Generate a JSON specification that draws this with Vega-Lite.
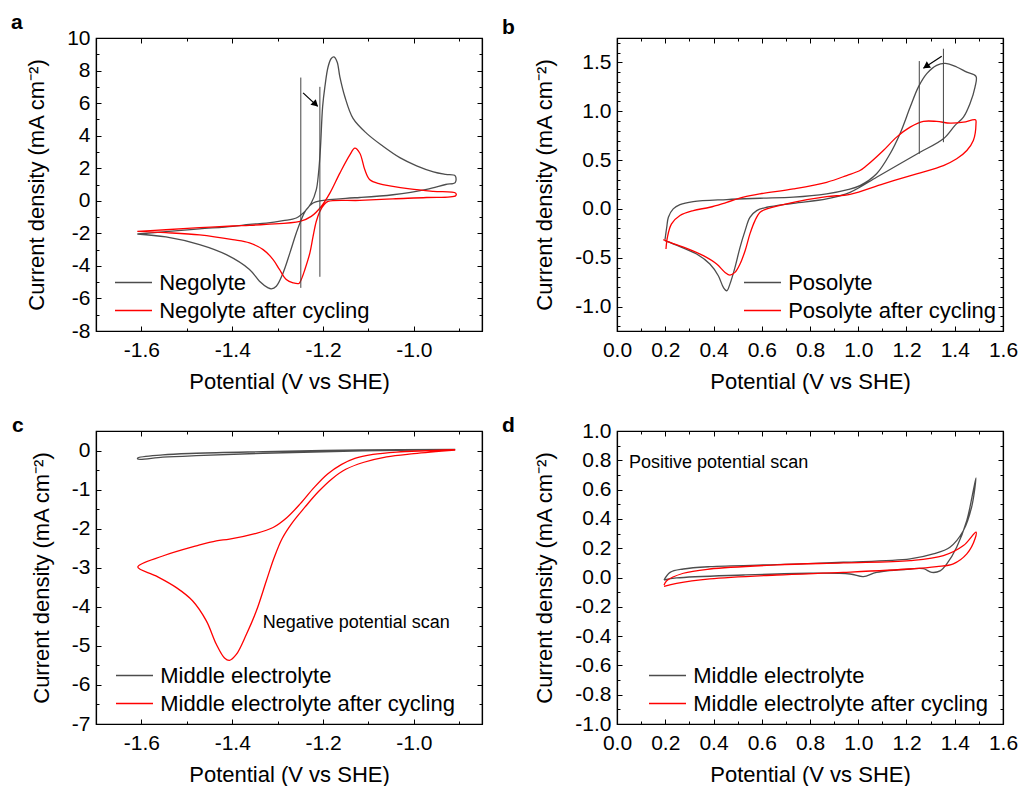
{
"$schema":"https://vega.github.io/schema/vega-lite/v6.json",
"padding":{"left":10,"top":11,"right":5,"bottom":5},
"config":{"font":"Liberation Sans","view":{"stroke":"black","strokeWidth":1.2},
"axis":{"labelFont":"Liberation Sans","labelFontSize":21,"labelColor":"black","titleFont":"Liberation Sans","titleFontSize":22,"titleFontWeight":"normal","titleColor":"black","tickColor":"black","tickWidth":1,"domainColor":"black","domainWidth":1.2,"grid":false,"labelOverlap":false,"labelFlush":false,"labelPadding":11,"titlePadding":10},
"axisBottom":{"labelPadding":13,"titlePadding":9},
"axisLeft":{"titlePadding":18},
"legend":{"labelFont":"Liberation Sans","labelFontSize":22,"labelColor":"black","labelLimit":0,"symbolType":"M-1.5,0H1.5","symbolSize":608,"symbolStrokeWidth":1.5,"labelOffset":12.2,"rowPadding":3,"padding":0},
"title":{"font":"Liberation Sans","fontSize":21,"fontWeight":"bold","color":"black","anchor":"start","frame":"group","baseline":"alphabetic"}},
"columns":2,
"spacing":{"row":100,"column":135},
"bounds":"flush",
"resolve":{"scale":{"color":"independent","x":"independent","y":"independent"}},
"concat":[
{"width":386,"height":293,
"title":{"text":"a","dx":-85,"offset":-6},
"layer":[
{"data":{"values":[
{"s":"Negolyte","i":0,"x":-1.609,"y":-2.04},{"s":"Negolyte","i":1,"x":-1.546,"y":-1.9},{"s":"Negolyte","i":2,"x":-1.472,"y":-1.73},{"s":"Negolyte","i":3,"x":-1.399,"y":-1.57},{"s":"Negolyte","i":4,"x":-1.362,"y":-1.45},{"s":"Negolyte","i":5,"x":-1.325,"y":-1.37},{"s":"Negolyte","i":6,"x":-1.288,"y":-1.22},{"s":"Negolyte","i":7,"x":-1.259,"y":-1.06},{"s":"Negolyte","i":8,"x":-1.24,"y":-0.65},{"s":"Negolyte","i":9,"x":-1.226,"y":-0.14},{"s":"Negolyte","i":10,"x":-1.215,"y":0.67},{"s":"Negolyte","i":11,"x":-1.21,"y":1.7},{"s":"Negolyte","i":12,"x":-1.206,"y":3.12},{"s":"Negolyte","i":13,"x":-1.201,"y":5.77},{"s":"Negolyte","i":14,"x":-1.196,"y":7.0},{"s":"Negolyte","i":15,"x":-1.189,"y":8.22},{"s":"Negolyte","i":16,"x":-1.182,"y":8.74},{"s":"Negolyte","i":17,"x":-1.176,"y":8.84},{"s":"Negolyte","i":18,"x":-1.169,"y":8.53},{"s":"Negolyte","i":19,"x":-1.163,"y":7.61},{"s":"Negolyte","i":20,"x":-1.152,"y":6.39},{"s":"Negolyte","i":21,"x":-1.134,"y":5.06},{"s":"Negolyte","i":22,"x":-1.104,"y":4.14},{"s":"Negolyte","i":23,"x":-1.068,"y":3.35},{"s":"Negolyte","i":24,"x":-1.031,"y":2.65},{"s":"Negolyte","i":25,"x":-0.994,"y":2.15},{"s":"Negolyte","i":26,"x":-0.957,"y":1.78},{"s":"Negolyte","i":27,"x":-0.93,"y":1.62},{"s":"Negolyte","i":28,"x":-0.909,"y":1.53},{"s":"Negolyte","i":29,"x":-0.909,"y":1.12},{"s":"Negolyte","i":30,"x":-0.93,"y":1.0},{"s":"Negolyte","i":31,"x":-0.972,"y":0.7},{"s":"Negolyte","i":32,"x":-1.046,"y":0.37},{"s":"Negolyte","i":33,"x":-1.119,"y":0.2},{"s":"Negolyte","i":34,"x":-1.141,"y":0.17},{"s":"Negolyte","i":35,"x":-1.207,"y":0.0},{"s":"Negolyte","i":36,"x":-1.222,"y":-0.14},{"s":"Negolyte","i":37,"x":-1.237,"y":-0.55},{"s":"Negolyte","i":38,"x":-1.248,"y":-1.16},{"s":"Negolyte","i":39,"x":-1.259,"y":-1.98},{"s":"Negolyte","i":40,"x":-1.273,"y":-3.2},{"s":"Negolyte","i":41,"x":-1.288,"y":-4.43},{"s":"Negolyte","i":42,"x":-1.303,"y":-5.25},{"s":"Negolyte","i":43,"x":-1.314,"y":-5.41},{"s":"Negolyte","i":44,"x":-1.321,"y":-5.35},{"s":"Negolyte","i":45,"x":-1.34,"y":-4.94},{"s":"Negolyte","i":46,"x":-1.362,"y":-4.22},{"s":"Negolyte","i":47,"x":-1.413,"y":-3.31},{"s":"Negolyte","i":48,"x":-1.472,"y":-2.69},{"s":"Negolyte","i":49,"x":-1.546,"y":-2.22},{"s":"Negolyte","i":50,"x":-1.609,"y":-2.04},
{"s":"Negolyte after cycling","i":0,"x":-1.609,"y":-1.88},{"s":"Negolyte after cycling","i":1,"x":-1.546,"y":-1.78},{"s":"Negolyte after cycling","i":2,"x":-1.472,"y":-1.65},{"s":"Negolyte after cycling","i":3,"x":-1.399,"y":-1.55},{"s":"Negolyte after cycling","i":4,"x":-1.362,"y":-1.51},{"s":"Negolyte after cycling","i":5,"x":-1.325,"y":-1.45},{"s":"Negolyte after cycling","i":6,"x":-1.251,"y":-1.27},{"s":"Negolyte after cycling","i":7,"x":-1.226,"y":-0.96},{"s":"Negolyte after cycling","i":8,"x":-1.204,"y":-0.35},{"s":"Negolyte after cycling","i":9,"x":-1.185,"y":0.47},{"s":"Negolyte after cycling","i":10,"x":-1.163,"y":1.7},{"s":"Negolyte after cycling","i":11,"x":-1.141,"y":2.82},{"s":"Negolyte after cycling","i":12,"x":-1.13,"y":3.23},{"s":"Negolyte after cycling","i":13,"x":-1.119,"y":2.92},{"s":"Negolyte after cycling","i":14,"x":-1.108,"y":1.9},{"s":"Negolyte after cycling","i":15,"x":-1.097,"y":1.29},{"s":"Negolyte after cycling","i":16,"x":-1.075,"y":1.04},{"s":"Negolyte after cycling","i":17,"x":-1.053,"y":0.92},{"s":"Negolyte after cycling","i":18,"x":-1.009,"y":0.73},{"s":"Negolyte after cycling","i":19,"x":-0.957,"y":0.58},{"s":"Negolyte after cycling","i":20,"x":-0.908,"y":0.47},{"s":"Negolyte after cycling","i":21,"x":-0.908,"y":0.31},{"s":"Negolyte after cycling","i":22,"x":-0.972,"y":0.2},{"s":"Negolyte after cycling","i":23,"x":-1.046,"y":0.12},{"s":"Negolyte after cycling","i":24,"x":-1.119,"y":0.02},{"s":"Negolyte after cycling","i":25,"x":-1.189,"y":-0.04},{"s":"Negolyte after cycling","i":26,"x":-1.198,"y":-0.25},{"s":"Negolyte after cycling","i":27,"x":-1.207,"y":-0.65},{"s":"Negolyte after cycling","i":28,"x":-1.215,"y":-1.27},{"s":"Negolyte after cycling","i":29,"x":-1.222,"y":-2.19},{"s":"Negolyte after cycling","i":30,"x":-1.229,"y":-3.2},{"s":"Negolyte after cycling","i":31,"x":-1.24,"y":-4.22},{"s":"Negolyte after cycling","i":32,"x":-1.248,"y":-4.84},{"s":"Negolyte after cycling","i":33,"x":-1.253,"y":-5.08},{"s":"Negolyte after cycling","i":34,"x":-1.266,"y":-5.04},{"s":"Negolyte after cycling","i":35,"x":-1.281,"y":-4.84},{"s":"Negolyte after cycling","i":36,"x":-1.296,"y":-4.22},{"s":"Negolyte after cycling","i":37,"x":-1.31,"y":-3.61},{"s":"Negolyte after cycling","i":38,"x":-1.332,"y":-3.0},{"s":"Negolyte after cycling","i":39,"x":-1.362,"y":-2.59},{"s":"Negolyte after cycling","i":40,"x":-1.399,"y":-2.39},{"s":"Negolyte after cycling","i":41,"x":-1.472,"y":-2.1},{"s":"Negolyte after cycling","i":42,"x":-1.546,"y":-1.96},{"s":"Negolyte after cycling","i":43,"x":-1.609,"y":-1.88}
]},
"mark":{"type":"line","strokeWidth":1.3,"interpolate":"catmull-rom"},
"encoding":{
"x":{"field":"x","type":"quantitative","scale":{"domain":[-1.7,-0.85],"nice":false,"zero":false},"axis":{"orient":"bottom","title":"Potential (V vs SHE)","values":[-1.7,-1.6,-1.5,-1.4,-1.3,-1.2,-1.1,-1.0,-0.9],"labelExpr":"abs(datum.value*5-round(datum.value*5))<0.001 ? replace(format(datum.value,'.1f'),'\u2212','-') : ''","tickSize":{"condition":{"test":"abs(datum.value*5-round(datum.value*5))<0.001","value":-5},"value":-3}}},
"y":{"field":"y","type":"quantitative","scale":{"domain":[-8,10],"nice":false,"zero":false},"axis":{"orient":"left","title":"Current density (mA cm\u207b\u00b2)","values":[-8,-7,-6,-5,-4,-3,-2,-1,0,1,2,3,4,5,6,7,8,9,10],"labelExpr":"datum.value % 2 == 0 ? replace(format(datum.value,'d'),'\u2212','-') : ''","tickSize":{"condition":{"test":"datum.value % 2 == 0","value":-5},"value":-3}}},
"color":{"field":"s","type":"nominal","scale":{"domain":["Negolyte","Negolyte after cycling"],"range":["#4d4d4d","#ff0000"]},"legend":{"orient":"none","legendX":24,"legendY":231,"title":null}},
"order":{"field":"i","type":"quantitative"}}},
{"data":{"values":[{"x":-1.249,"y1":-5.35,"y2":7.57},{"x":-1.207,"y1":-4.67,"y2":7.0}]},
"mark":{"type":"rule","color":"#444444","strokeWidth":1},
"encoding":{
"x":{"field":"x","type":"quantitative","scale":{"domain":[-1.7,-0.85],"nice":false,"zero":false},"axis":{"orient":"top","title":null,"labels":false,"values":[-1.7,-1.6,-1.5,-1.4,-1.3,-1.2,-1.1,-1.0,-0.9],"tickSize":{"condition":{"test":"abs(datum.value*5-round(datum.value*5))<0.001","value":-5},"value":-3}}},
"y":{"field":"y1","type":"quantitative","scale":{"domain":[-8,10],"nice":false,"zero":false},"axis":{"orient":"right","title":null,"labels":false,"values":[-8,-7,-6,-5,-4,-3,-2,-1,0,1,2,3,4,5,6,7,8,9,10],"tickSize":{"condition":{"test":"datum.value % 2 == 0","value":-5},"value":-3}}},
"y2":{"field":"y2"}}},
{"data":{"values":[{"x":-1.244,"y":6.63,"x2":-1.212,"y2":5.8,"hx":-1.2165,"hy":5.93}]},
"layer":[
{"mark":{"type":"rule","color":"black","strokeWidth":1.2},
"encoding":{"x":{"field":"x","type":"quantitative","scale":{"domain":[-1.7,-0.85],"nice":false,"zero":false},"axis":null},"y":{"field":"y","type":"quantitative","scale":{"domain":[-8,10],"nice":false,"zero":false},"axis":null},"x2":{"field":"x2"},"y2":{"field":"y2"}}},
{"mark":{"type":"point","shape":"triangle-right","angle":43,"filled":true,"color":"black","size":60,"opacity":1},
"encoding":{"x":{"field":"hx","type":"quantitative","scale":{"domain":[-1.7,-0.85],"nice":false,"zero":false},"axis":null},"y":{"field":"hy","type":"quantitative","scale":{"domain":[-8,10],"nice":false,"zero":false},"axis":null}}}
]}
],
"resolve":{"axis":{"x":"independent","y":"independent"}}},

{"width":386,"height":293,
"title":{"text":"b","dx":-115,"offset":-6},
"layer":[
{"data":{"values":[
{"s":"Posolyte","i":0,"x":0.199,"y":-0.315},{"s":"Posolyte","i":1,"x":0.206,"y":-0.19},{"s":"Posolyte","i":2,"x":0.213,"y":-0.086},{"s":"Posolyte","i":3,"x":0.233,"y":0.0},{"s":"Posolyte","i":4,"x":0.261,"y":0.044},{"s":"Posolyte","i":5,"x":0.316,"y":0.075},{"s":"Posolyte","i":6,"x":0.455,"y":0.096},{"s":"Posolyte","i":7,"x":0.593,"y":0.109},{"s":"Posolyte","i":8,"x":0.731,"y":0.12},{"s":"Posolyte","i":9,"x":0.869,"y":0.154},{"s":"Posolyte","i":10,"x":0.952,"y":0.195},{"s":"Posolyte","i":11,"x":1.007,"y":0.239},{"s":"Posolyte","i":12,"x":1.076,"y":0.36},{"s":"Posolyte","i":13,"x":1.132,"y":0.565},{"s":"Posolyte","i":14,"x":1.173,"y":0.77},{"s":"Posolyte","i":15,"x":1.215,"y":1.04},{"s":"Posolyte","i":16,"x":1.249,"y":1.247},{"s":"Posolyte","i":17,"x":1.284,"y":1.385},{"s":"Posolyte","i":18,"x":1.325,"y":1.47},{"s":"Posolyte","i":19,"x":1.36,"y":1.49},{"s":"Posolyte","i":20,"x":1.408,"y":1.453},{"s":"Posolyte","i":21,"x":1.45,"y":1.4},{"s":"Posolyte","i":22,"x":1.488,"y":1.357},{"s":"Posolyte","i":23,"x":1.484,"y":1.247},{"s":"Posolyte","i":24,"x":1.463,"y":1.077},{"s":"Posolyte","i":25,"x":1.436,"y":0.94},{"s":"Posolyte","i":26,"x":1.401,"y":0.855},{"s":"Posolyte","i":27,"x":1.353,"y":0.718},{"s":"Posolyte","i":28,"x":1.256,"y":0.58},{"s":"Posolyte","i":29,"x":1.173,"y":0.462},{"s":"Posolyte","i":30,"x":1.076,"y":0.324},{"s":"Posolyte","i":31,"x":0.966,"y":0.17},{"s":"Posolyte","i":32,"x":0.869,"y":0.103},{"s":"Posolyte","i":33,"x":0.731,"y":0.058},{"s":"Posolyte","i":34,"x":0.621,"y":0.017},{"s":"Posolyte","i":35,"x":0.579,"y":-0.017},{"s":"Posolyte","i":36,"x":0.551,"y":-0.086},{"s":"Posolyte","i":37,"x":0.531,"y":-0.222},{"s":"Posolyte","i":38,"x":0.51,"y":-0.393},{"s":"Posolyte","i":39,"x":0.489,"y":-0.599},{"s":"Posolyte","i":40,"x":0.468,"y":-0.77},{"s":"Posolyte","i":41,"x":0.455,"y":-0.838},{"s":"Posolyte","i":42,"x":0.441,"y":-0.804},{"s":"Posolyte","i":43,"x":0.42,"y":-0.684},{"s":"Posolyte","i":44,"x":0.385,"y":-0.564},{"s":"Posolyte","i":45,"x":0.33,"y":-0.462},{"s":"Posolyte","i":46,"x":0.261,"y":-0.386},{"s":"Posolyte","i":47,"x":0.199,"y":-0.325},
{"s":"Posolyte after cycling","i":0,"x":0.203,"y":-0.41},{"s":"Posolyte after cycling","i":1,"x":0.209,"y":-0.29},{"s":"Posolyte after cycling","i":2,"x":0.226,"y":-0.154},{"s":"Posolyte after cycling","i":3,"x":0.261,"y":-0.068},{"s":"Posolyte after cycling","i":4,"x":0.316,"y":-0.017},{"s":"Posolyte after cycling","i":5,"x":0.385,"y":0.017},{"s":"Posolyte after cycling","i":6,"x":0.455,"y":0.068},{"s":"Posolyte after cycling","i":7,"x":0.524,"y":0.12},{"s":"Posolyte after cycling","i":8,"x":0.593,"y":0.154},{"s":"Posolyte after cycling","i":9,"x":0.731,"y":0.205},{"s":"Posolyte after cycling","i":10,"x":0.869,"y":0.273},{"s":"Posolyte after cycling","i":11,"x":0.952,"y":0.342},{"s":"Posolyte after cycling","i":12,"x":1.007,"y":0.393},{"s":"Posolyte after cycling","i":13,"x":1.035,"y":0.444},{"s":"Posolyte after cycling","i":14,"x":1.104,"y":0.598},{"s":"Posolyte after cycling","i":15,"x":1.159,"y":0.735},{"s":"Posolyte after cycling","i":16,"x":1.215,"y":0.837},{"s":"Posolyte after cycling","i":17,"x":1.27,"y":0.896},{"s":"Posolyte after cycling","i":18,"x":1.325,"y":0.896},{"s":"Posolyte after cycling","i":19,"x":1.381,"y":0.878},{"s":"Posolyte after cycling","i":20,"x":1.436,"y":0.888},{"s":"Posolyte after cycling","i":21,"x":1.486,"y":0.913},{"s":"Posolyte after cycling","i":22,"x":1.488,"y":0.87},{"s":"Posolyte after cycling","i":23,"x":1.477,"y":0.7},{"s":"Posolyte after cycling","i":24,"x":1.45,"y":0.598},{"s":"Posolyte after cycling","i":25,"x":1.408,"y":0.513},{"s":"Posolyte after cycling","i":26,"x":1.353,"y":0.444},{"s":"Posolyte after cycling","i":27,"x":1.242,"y":0.359},{"s":"Posolyte after cycling","i":28,"x":1.104,"y":0.257},{"s":"Posolyte after cycling","i":29,"x":0.966,"y":0.15},{"s":"Posolyte after cycling","i":30,"x":0.869,"y":0.126},{"s":"Posolyte after cycling","i":31,"x":0.731,"y":0.068},{"s":"Posolyte after cycling","i":32,"x":0.621,"y":0.0},{"s":"Posolyte after cycling","i":33,"x":0.593,"y":-0.034},{"s":"Posolyte after cycling","i":34,"x":0.572,"y":-0.12},{"s":"Posolyte after cycling","i":35,"x":0.551,"y":-0.256},{"s":"Posolyte after cycling","i":36,"x":0.531,"y":-0.428},{"s":"Posolyte after cycling","i":37,"x":0.51,"y":-0.564},{"s":"Posolyte after cycling","i":38,"x":0.489,"y":-0.65},{"s":"Posolyte after cycling","i":39,"x":0.468,"y":-0.677},{"s":"Posolyte after cycling","i":40,"x":0.448,"y":-0.65},{"s":"Posolyte after cycling","i":41,"x":0.413,"y":-0.564},{"s":"Posolyte after cycling","i":42,"x":0.358,"y":-0.479},{"s":"Posolyte after cycling","i":43,"x":0.289,"y":-0.404},{"s":"Posolyte after cycling","i":44,"x":0.233,"y":-0.356},{"s":"Posolyte after cycling","i":45,"x":0.192,"y":-0.315}
]},
"mark":{"type":"line","strokeWidth":1.3,"interpolate":"catmull-rom"},
"encoding":{
"x":{"field":"x","type":"quantitative","scale":{"domain":[0,1.6],"nice":false,"zero":false},"axis":{"orient":"bottom","title":"Potential (V vs SHE)","values":[0,0.1,0.2,0.3,0.4,0.5,0.6,0.7,0.8,0.9,1.0,1.1,1.2,1.3,1.4,1.5,1.6],"labelExpr":"abs(datum.value*5-round(datum.value*5))<0.001 ? format(datum.value,'.1f') : ''","tickSize":{"condition":{"test":"abs(datum.value*5-round(datum.value*5))<0.001","value":-5},"value":-3}}},
"y":{"field":"y","type":"quantitative","scale":{"domain":[-1.25,1.75],"nice":false,"zero":false},"axis":{"orient":"left","title":"Current density (mA cm\u207b\u00b2)","values":[-1.2,-1.1,-1.0,-0.9,-0.8,-0.7,-0.6,-0.5,-0.4,-0.3,-0.2,-0.1,0,0.1,0.2,0.3,0.4,0.5,0.6,0.7,0.8,0.9,1.0,1.1,1.2,1.3,1.4,1.5,1.6,1.7],"labelExpr":"abs(datum.value*2-round(datum.value*2))<0.001 ? replace(format(datum.value,'.1f'),'\u2212','-') : ''","tickSize":{"condition":{"test":"abs(datum.value*2-round(datum.value*2))<0.001","value":-5},"value":-3}}},
"color":{"field":"s","type":"nominal","scale":{"domain":["Posolyte","Posolyte after cycling"],"range":["#4d4d4d","#ff0000"]},"legend":{"orient":"none","legendX":132,"legendY":231,"title":null}},
"order":{"field":"i","type":"quantitative"}}},
{"data":{"values":[{"x":1.253,"y1":0.564,"y2":1.514},{"x":1.353,"y1":0.683,"y2":1.64}]},
"mark":{"type":"rule","color":"#444444","strokeWidth":1},
"encoding":{
"x":{"field":"x","type":"quantitative","scale":{"domain":[0,1.6],"nice":false,"zero":false},"axis":{"orient":"top","title":null,"labels":false,"values":[0,0.1,0.2,0.3,0.4,0.5,0.6,0.7,0.8,0.9,1.0,1.1,1.2,1.3,1.4,1.5,1.6],"tickSize":{"condition":{"test":"abs(datum.value*5-round(datum.value*5))<0.001","value":-5},"value":-3}}},
"y":{"field":"y1","type":"quantitative","scale":{"domain":[-1.25,1.75],"nice":false,"zero":false},"axis":{"orient":"right","title":null,"labels":false,"values":[-1.2,-1.1,-1.0,-0.9,-0.8,-0.7,-0.6,-0.5,-0.4,-0.3,-0.2,-0.1,0,0.1,0.2,0.3,0.4,0.5,0.6,0.7,0.8,0.9,1.0,1.1,1.2,1.3,1.4,1.5,1.6,1.7],"tickSize":{"condition":{"test":"abs(datum.value*2-round(datum.value*2))<0.001","value":-5},"value":-3}}},
"y2":{"field":"y2"}}},
{"data":{"values":[{"x":1.346,"y":1.562,"x2":1.27,"y2":1.44,"hx":1.281,"hy":1.459}]},
"layer":[
{"mark":{"type":"rule","color":"black","strokeWidth":1.2},
"encoding":{"x":{"field":"x","type":"quantitative","scale":{"domain":[0,1.6],"nice":false,"zero":false},"axis":null},"y":{"field":"y","type":"quantitative","scale":{"domain":[-1.25,1.75],"nice":false,"zero":false},"axis":null},"x2":{"field":"x2"},"y2":{"field":"y2"}}},
{"mark":{"type":"point","shape":"triangle-right","angle":147,"filled":true,"color":"black","size":60,"opacity":1},
"encoding":{"x":{"field":"hx","type":"quantitative","scale":{"domain":[0,1.6],"nice":false,"zero":false},"axis":null},"y":{"field":"hy","type":"quantitative","scale":{"domain":[-1.25,1.75],"nice":false,"zero":false},"axis":null}}}
]}
],
"resolve":{"axis":{"x":"independent","y":"independent"}}},

{"width":386,"height":293,
"title":{"text":"c","dx":-84,"offset":-15.5},
"layer":[
{"data":{"values":[
{"s":"Middle electrolyte","i":0,"x":-0.909,"y":0.03},{"s":"Middle electrolyte","i":1,"x":-1.112,"y":0.017},{"s":"Middle electrolyte","i":2,"x":-1.332,"y":-0.03},{"s":"Middle electrolyte","i":3,"x":-1.479,"y":-0.07},{"s":"Middle electrolyte","i":4,"x":-1.553,"y":-0.11},{"s":"Middle electrolyte","i":5,"x":-1.608,"y":-0.19},{"s":"Middle electrolyte","i":6,"x":-1.608,"y":-0.22},{"s":"Middle electrolyte","i":7,"x":-1.553,"y":-0.17},{"s":"Middle electrolyte","i":8,"x":-1.479,"y":-0.13},{"s":"Middle electrolyte","i":9,"x":-1.332,"y":-0.07},{"s":"Middle electrolyte","i":10,"x":-1.112,"y":-0.01},{"s":"Middle electrolyte","i":11,"x":-0.909,"y":0.02},
{"s":"Middle electrolyte after cycling","i":0,"x":-0.909,"y":0.02},{"s":"Middle electrolyte after cycling","i":1,"x":-1.038,"y":-0.04},{"s":"Middle electrolyte after cycling","i":2,"x":-1.09,"y":-0.1},{"s":"Middle electrolyte after cycling","i":3,"x":-1.13,"y":-0.2},{"s":"Middle electrolyte after cycling","i":4,"x":-1.16,"y":-0.36},{"s":"Middle electrolyte after cycling","i":5,"x":-1.19,"y":-0.6},{"s":"Middle electrolyte after cycling","i":6,"x":-1.22,"y":-0.95},{"s":"Middle electrolyte after cycling","i":7,"x":-1.25,"y":-1.36},{"s":"Middle electrolyte after cycling","i":8,"x":-1.28,"y":-1.72},{"s":"Middle electrolyte after cycling","i":9,"x":-1.31,"y":-1.97},{"s":"Middle electrolyte after cycling","i":10,"x":-1.35,"y":-2.13},{"s":"Middle electrolyte after cycling","i":11,"x":-1.406,"y":-2.27},{"s":"Middle electrolyte after cycling","i":12,"x":-1.435,"y":-2.31},{"s":"Middle electrolyte after cycling","i":13,"x":-1.479,"y":-2.44},{"s":"Middle electrolyte after cycling","i":14,"x":-1.553,"y":-2.7},{"s":"Middle electrolyte after cycling","i":15,"x":-1.608,"y":-2.98},{"s":"Middle electrolyte after cycling","i":16,"x":-1.568,"y":-3.21},{"s":"Middle electrolyte after cycling","i":17,"x":-1.523,"y":-3.51},{"s":"Middle electrolyte after cycling","i":18,"x":-1.487,"y":-3.85},{"s":"Middle electrolyte after cycling","i":19,"x":-1.457,"y":-4.36},{"s":"Middle electrolyte after cycling","i":20,"x":-1.435,"y":-4.96},{"s":"Middle electrolyte after cycling","i":21,"x":-1.417,"y":-5.31},{"s":"Middle electrolyte after cycling","i":22,"x":-1.406,"y":-5.37},{"s":"Middle electrolyte after cycling","i":23,"x":-1.391,"y":-5.22},{"s":"Middle electrolyte after cycling","i":24,"x":-1.369,"y":-4.71},{"s":"Middle electrolyte after cycling","i":25,"x":-1.347,"y":-4.11},{"s":"Middle electrolyte after cycling","i":26,"x":-1.325,"y":-3.34},{"s":"Middle electrolyte after cycling","i":27,"x":-1.308,"y":-2.75},{"s":"Middle electrolyte after cycling","i":28,"x":-1.29,"y":-2.25},{"s":"Middle electrolyte after cycling","i":29,"x":-1.268,"y":-1.85},{"s":"Middle electrolyte after cycling","i":30,"x":-1.24,"y":-1.45},{"s":"Middle electrolyte after cycling","i":31,"x":-1.21,"y":-1.05},{"s":"Middle electrolyte after cycling","i":32,"x":-1.18,"y":-0.72},{"s":"Middle electrolyte after cycling","i":33,"x":-1.15,"y":-0.48},{"s":"Middle electrolyte after cycling","i":34,"x":-1.11,"y":-0.3},{"s":"Middle electrolyte after cycling","i":35,"x":-1.06,"y":-0.16},{"s":"Middle electrolyte after cycling","i":36,"x":-1.0,"y":-0.08},{"s":"Middle electrolyte after cycling","i":37,"x":-0.909,"y":0.01}
]},
"mark":{"type":"line","strokeWidth":1.3,"interpolate":"catmull-rom"},
"encoding":{
"x":{"field":"x","type":"quantitative","scale":{"domain":[-1.7,-0.85],"nice":false,"zero":false},"axis":{"orient":"bottom","title":"Potential (V vs SHE)","values":[-1.7,-1.6,-1.5,-1.4,-1.3,-1.2,-1.1,-1.0,-0.9],"labelExpr":"abs(datum.value*5-round(datum.value*5))<0.001 ? replace(format(datum.value,'.1f'),'\u2212','-') : ''","tickSize":{"condition":{"test":"abs(datum.value*5-round(datum.value*5))<0.001","value":-5},"value":-3}}},
"y":{"field":"y","type":"quantitative","scale":{"domain":[-7,0.5],"nice":false,"zero":false},"axis":{"orient":"left","title":"Current density (mA cm\u207b\u00b2)","values":[-7,-6.5,-6,-5.5,-5,-4.5,-4,-3.5,-3,-2.5,-2,-1.5,-1,-0.5,0,0.5],"labelExpr":"abs(datum.value-round(datum.value))<0.001 ? replace(format(datum.value,'d'),'\u2212','-') : ''","tickSize":{"condition":{"test":"abs(datum.value-round(datum.value))<0.001","value":-5},"value":-3}}},
"color":{"field":"s","type":"nominal","scale":{"domain":["Middle electrolyte","Middle electrolyte after cycling"],"range":["#4d4d4d","#ff0000"]},"legend":{"orient":"none","legendX":25,"legendY":231,"title":null}},
"order":{"field":"i","type":"quantitative"}}},
{"data":{"values":[{"x":-1.333,"y":-4.42,"t":"Negative potential scan"}]},
"mark":{"type":"text","align":"left","baseline":"middle","fontSize":18,"font":"Liberation Sans","color":"black"},
"encoding":{
"x":{"field":"x","type":"quantitative","scale":{"domain":[-1.7,-0.85],"nice":false,"zero":false},"axis":{"orient":"top","title":null,"labels":false,"values":[-1.7,-1.6,-1.5,-1.4,-1.3,-1.2,-1.1,-1.0,-0.9],"tickSize":{"condition":{"test":"abs(datum.value*5-round(datum.value*5))<0.001","value":-5},"value":-3}}},
"y":{"field":"y","type":"quantitative","scale":{"domain":[-7,0.5],"nice":false,"zero":false},"axis":{"orient":"right","title":null,"labels":false,"values":[-7,-6.5,-6,-5.5,-5,-4.5,-4,-3.5,-3,-2.5,-2,-1.5,-1,-0.5,0,0.5],"tickSize":{"condition":{"test":"abs(datum.value-round(datum.value))<0.001","value":-5},"value":-3}}},
"text":{"field":"t"}}}
],
"resolve":{"axis":{"x":"independent","y":"independent"}}},

{"width":386,"height":293,
"title":{"text":"d","dx":-115,"offset":-15.5},
"layer":[
{"data":{"values":[
{"s":"Middle electrolyte","i":0,"x":0.195,"y":-0.017},{"s":"Middle electrolyte","i":1,"x":0.22,"y":0.035},{"s":"Middle electrolyte","i":2,"x":0.275,"y":0.058},{"s":"Middle electrolyte","i":3,"x":0.385,"y":0.074},{"s":"Middle electrolyte","i":4,"x":0.662,"y":0.088},{"s":"Middle electrolyte","i":5,"x":0.938,"y":0.104},{"s":"Middle electrolyte","i":6,"x":1.215,"y":0.127},{"s":"Middle electrolyte","i":7,"x":1.311,"y":0.161},{"s":"Middle electrolyte","i":8,"x":1.38,"y":0.207},{"s":"Middle electrolyte","i":9,"x":1.436,"y":0.321},{"s":"Middle electrolyte","i":10,"x":1.47,"y":0.481},{"s":"Middle electrolyte","i":11,"x":1.488,"y":0.68},{"s":"Middle electrolyte","i":12,"x":1.477,"y":0.595},{"s":"Middle electrolyte","i":13,"x":1.45,"y":0.39},{"s":"Middle electrolyte","i":14,"x":1.408,"y":0.207},{"s":"Middle electrolyte","i":15,"x":1.367,"y":0.093},{"s":"Middle electrolyte","i":16,"x":1.339,"y":0.045},{"s":"Middle electrolyte","i":17,"x":1.305,"y":0.035},{"s":"Middle electrolyte","i":18,"x":1.27,"y":0.06},{"s":"Middle electrolyte","i":19,"x":1.215,"y":0.058},{"s":"Middle electrolyte","i":20,"x":1.076,"y":0.035},{"s":"Middle electrolyte","i":21,"x":1.021,"y":0.006},{"s":"Middle electrolyte","i":22,"x":0.966,"y":0.024},{"s":"Middle electrolyte","i":23,"x":0.8,"y":0.029},{"s":"Middle electrolyte","i":24,"x":0.524,"y":0.017},{"s":"Middle electrolyte","i":25,"x":0.247,"y":-0.003},{"s":"Middle electrolyte","i":26,"x":0.195,"y":-0.017},
{"s":"Middle electrolyte after cycling","i":0,"x":0.195,"y":-0.052},{"s":"Middle electrolyte after cycling","i":1,"x":0.206,"y":-0.022},{"s":"Middle electrolyte after cycling","i":2,"x":0.275,"y":0.029},{"s":"Middle electrolyte after cycling","i":3,"x":0.385,"y":0.058},{"s":"Middle electrolyte after cycling","i":4,"x":0.662,"y":0.086},{"s":"Middle electrolyte after cycling","i":5,"x":0.938,"y":0.1},{"s":"Middle electrolyte after cycling","i":6,"x":1.215,"y":0.115},{"s":"Middle electrolyte after cycling","i":7,"x":1.353,"y":0.149},{"s":"Middle electrolyte after cycling","i":8,"x":1.436,"y":0.218},{"s":"Middle electrolyte after cycling","i":9,"x":1.488,"y":0.31},{"s":"Middle electrolyte after cycling","i":10,"x":1.484,"y":0.264},{"s":"Middle electrolyte after cycling","i":11,"x":1.45,"y":0.161},{"s":"Middle electrolyte after cycling","i":12,"x":1.394,"y":0.093},{"s":"Middle electrolyte after cycling","i":13,"x":1.325,"y":0.074},{"s":"Middle electrolyte after cycling","i":14,"x":1.215,"y":0.058},{"s":"Middle electrolyte after cycling","i":15,"x":0.938,"y":0.035},{"s":"Middle electrolyte after cycling","i":16,"x":0.662,"y":0.017},{"s":"Middle electrolyte after cycling","i":17,"x":0.385,"y":-0.01},{"s":"Middle electrolyte after cycling","i":18,"x":0.247,"y":-0.04},{"s":"Middle electrolyte after cycling","i":19,"x":0.195,"y":-0.06}
]},
"mark":{"type":"line","strokeWidth":1.3,"interpolate":"catmull-rom"},
"encoding":{
"x":{"field":"x","type":"quantitative","scale":{"domain":[0,1.6],"nice":false,"zero":false},"axis":{"orient":"bottom","title":"Potential (V vs SHE)","values":[0,0.1,0.2,0.3,0.4,0.5,0.6,0.7,0.8,0.9,1.0,1.1,1.2,1.3,1.4,1.5,1.6],"labelExpr":"abs(datum.value*5-round(datum.value*5))<0.001 ? format(datum.value,'.1f') : ''","tickSize":{"condition":{"test":"abs(datum.value*5-round(datum.value*5))<0.001","value":-5},"value":-3}}},
"y":{"field":"y","type":"quantitative","scale":{"domain":[-1,1],"nice":false,"zero":false},"axis":{"orient":"left","title":"Current density (mA cm\u207b\u00b2)","values":[-1.0,-0.9,-0.8,-0.7,-0.6,-0.5,-0.4,-0.3,-0.2,-0.1,0,0.1,0.2,0.3,0.4,0.5,0.6,0.7,0.8,0.9,1.0],"labelExpr":"abs(datum.value*5-round(datum.value*5))<0.001 ? replace(format(datum.value,'.1f'),'\u2212','-') : ''","tickSize":{"condition":{"test":"abs(datum.value*5-round(datum.value*5))<0.001","value":-5},"value":-3}}},
"color":{"field":"s","type":"nominal","scale":{"domain":["Middle electrolyte","Middle electrolyte after cycling"],"range":["#4d4d4d","#ff0000"]},"legend":{"orient":"none","legendX":37,"legendY":231,"title":null}},
"order":{"field":"i","type":"quantitative"}}},
{"data":{"values":[{"x":0.05,"y":0.78,"t":"Positive potential scan"}]},
"mark":{"type":"text","align":"left","baseline":"middle","fontSize":18,"font":"Liberation Sans","color":"black"},
"encoding":{
"x":{"field":"x","type":"quantitative","scale":{"domain":[0,1.6],"nice":false,"zero":false},"axis":{"orient":"top","title":null,"labels":false,"values":[0,0.1,0.2,0.3,0.4,0.5,0.6,0.7,0.8,0.9,1.0,1.1,1.2,1.3,1.4,1.5,1.6],"tickSize":{"condition":{"test":"abs(datum.value*5-round(datum.value*5))<0.001","value":-5},"value":-3}}},
"y":{"field":"y","type":"quantitative","scale":{"domain":[-1,1],"nice":false,"zero":false},"axis":{"orient":"right","title":null,"labels":false,"values":[-1.0,-0.9,-0.8,-0.7,-0.6,-0.5,-0.4,-0.3,-0.2,-0.1,0,0.1,0.2,0.3,0.4,0.5,0.6,0.7,0.8,0.9,1.0],"tickSize":{"condition":{"test":"abs(datum.value*5-round(datum.value*5))<0.001","value":-5},"value":-3}}},
"text":{"field":"t"}}}
],
"resolve":{"axis":{"x":"independent","y":"independent"}}}
]
}
